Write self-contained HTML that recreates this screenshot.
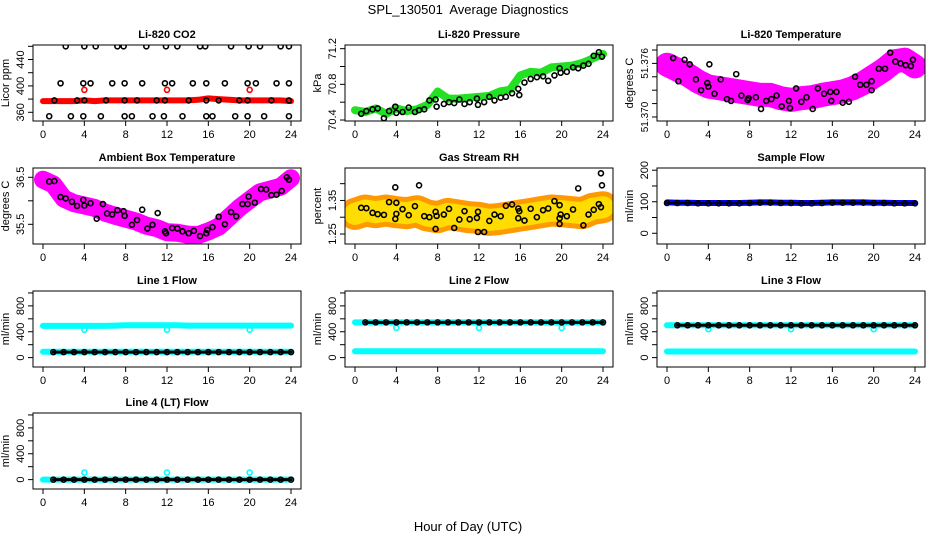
<!DOCTYPE html>
<html><head><meta charset="utf-8"><style>
body{margin:0;background:#fff}
svg{display:block;font-family:"Liberation Sans",Arial,sans-serif}
</style></head><body>
<svg id="c" width="936" height="540" viewBox="0 0 936 540">
<text x="468" y="14" text-anchor="middle" font-size="13" style="white-space:pre">SPL_130501  Average Diagnostics</text>
<text x="468" y="531" text-anchor="middle" font-size="13">Hour of Day (UTC)</text>
</svg>
<script>
// ---- data ----
const hours = [0,1,2,3,4,5,6,7,8,9,10,11,12,13,14,15,16,17,18,19,20,21,22,23,24];
const xTicks = [0,4,8,12,16,20,24];

const co2Red = [377,377,377,377,378,377,378,378,378,378,378,378,378,378,378,379,381,380,379,378,378,378,378,378,377];
const co2RedOut = [[4,394],[12,394],[20,394]];
const co2Black = [[2.2,460],[4,460],[5.1,460],[7.2,460],[7.8,460],[10,460],[11.9,460],[13,460],[15.2,460],[15.7,460],[18.2,460],[19.9,460],[21,460],[23,460],[23.8,460],
 [1.7,404],[3.9,404],[4.6,404],[6.7,404],[7.9,404],[9.6,404],[11.8,404],[12.5,404],[14.5,404],[15.8,404],[17.6,404],[19.8,404],[20.6,404],[22.6,404],[23.8,404],
 [1.1,378],[3.3,378],[4,378],[6.1,378],[7.9,378],[9.1,378],[11,378],[11.8,378],[14.1,378],[15.8,378],[17,378],[19,378],[19.8,378],[22.1,378],[23.8,378],
 [0.6,354],[2.7,354],[3.9,354],[5.6,354],[7.9,354],[8.6,354],[10.6,354],[11.7,354],[13.5,354],[15.8,354],[16.4,354],[18.6,354],[19.8,354],[21.4,354],[23.8,354]];

const presGreen = [70.51,70.49,70.53,70.47,70.53,70.50,70.52,70.57,70.72,70.64,70.64,70.65,70.66,70.67,70.72,70.74,70.90,70.94,70.93,70.99,71.00,71.01,71.04,71.09,71.14];
const presBlack = [[0.6,70.47],[1.1,70.50],[1.7,70.52],[2.2,70.53],[2.8,70.42],[3.3,70.50],[3.9,70.55],[4,70.48],[4.6,70.49],[5.2,70.54],[5.8,70.49],[6.2,70.51],[6.7,70.52],[7.2,70.62],[7.8,70.63],[7.9,70.55],[8.6,70.58],[9.1,70.60],[9.6,70.59],[10.1,70.63],[10.6,70.58],[11.1,70.60],[11.8,70.64],[11.9,70.57],[12.5,70.60],[13,70.66],[13.5,70.62],[14.1,70.65],[14.6,70.66],[15.2,70.70],[15.8,70.75],[15.9,70.68],[16.4,70.82],[17,70.86],[17.6,70.88],[18.2,70.89],[18.7,70.84],[19.3,70.90],[19.8,70.98],[19.9,70.93],[20.5,70.94],[21.1,70.99],[21.6,70.98],[22.1,71.01],[22.6,71.03],[23.1,71.12],[23.6,71.16],[23.9,71.11]];

const liTempPink = [51.37585,51.37529,51.37472,51.37397,51.37341,51.37323,51.37304,51.37285,51.37266,51.37247,51.37247,51.37210,51.37191,51.37210,51.37221,51.37247,51.37266,51.37285,51.37323,51.37379,51.37454,51.37529,51.37622,51.37641,51.37566];
const liTempBlack = [[0.6,51.3766],[1.1,51.3740],[1.7,51.3764],[2.2,51.3759],[2.8,51.3742],[3.3,51.3730],[3.9,51.3738],[4,51.3734],[4.1,51.3759],[4.6,51.3726],[5.2,51.3742],[5.8,51.3720],[6.2,51.3718],[6.7,51.3748],[7.2,51.3724],[7.8,51.3719],[7.9,51.3721],[8.6,51.3722],[9.1,51.3709],[9.6,51.3718],[10.1,51.3720],[10.6,51.3724],[11.1,51.3712],[11.8,51.3718],[11.9,51.3710],[12.5,51.3732],[13,51.3717],[13.5,51.3722],[14.1,51.3709],[14.6,51.3732],[15.2,51.3726],[15.8,51.3728],[15.9,51.3718],[16.4,51.3728],[17,51.3716],[17.6,51.3717],[18.2,51.3745],[18.7,51.3736],[19.3,51.3736],[19.8,51.3730],[19.8,51.3740],[20.5,51.3754],[21.1,51.3754],[21.6,51.3772],[22.1,51.3762],[22.6,51.3760],[23.1,51.3758],[23.6,51.3757],[23.8,51.3764]];

const ambPink = [36.45,36.35,36.05,35.95,35.9,35.85,35.75,35.68,35.62,35.56,35.47,35.42,35.33,35.32,35.28,35.27,35.35,35.45,35.65,35.85,36.02,36.18,36.24,36.3,36.48];
const ambBlack = [[0.6,36.41],[1.1,36.42],[1.7,36.08],[2.2,36.05],[2.8,35.98],[3.3,35.89],[3.9,36.02],[4,35.90],[4.6,35.95],[5.2,35.62],[5.8,35.93],[6.2,35.73],[6.7,35.71],[7.2,35.80],[7.8,35.78],[7.9,35.68],[8.6,35.49],[9.1,35.59],[9.6,35.81],[10.1,35.41],[10.6,35.49],[11.1,35.74],[11.8,35.35],[11.9,35.31],[12.5,35.42],[13,35.41],[13.5,35.35],[14.1,35.31],[14.6,35.36],[15.2,35.25],[15.8,35.31],[15.9,35.38],[16.4,35.44],[17,35.66],[17.6,35.50],[18.2,35.76],[18.7,35.67],[19.3,35.93],[19.8,35.93],[19.9,36.09],[20.5,35.96],[21.1,36.25],[21.6,36.24],[22.1,36.12],[22.6,36.13],[23.1,36.21],[23.6,36.50],[23.8,36.45]];

const rhOrange = [1.310,1.320,1.315,1.320,1.315,1.312,1.318,1.305,1.300,1.310,1.305,1.300,1.298,1.292,1.295,1.300,1.305,1.310,1.315,1.320,1.318,1.315,1.312,1.325,1.330];
const rhBlack = [[0.6,1.328],[1.1,1.327],[1.7,1.313],[2.2,1.309],[2.8,1.307],[3.3,1.345],[3.9,1.389],[4,1.343],[3.9,1.295],[4,1.310],[4.6,1.324],[5.2,1.306],[5.8,1.333],[6.2,1.395],[6.7,1.303],[7.2,1.300],[7.8,1.316],[7.9,1.304],[7.8,1.265],[8.6,1.308],[9.1,1.325],[9.6,1.268],[10.1,1.293],[10.6,1.318],[11.1,1.294],[11.8,1.298],[11.9,1.316],[11.9,1.256],[12.5,1.256],[13,1.289],[13.5,1.308],[14.1,1.303],[14.6,1.334],[15.2,1.338],[15.8,1.326],[15.9,1.318],[15.8,1.297],[16.4,1.290],[17,1.325],[17.6,1.300],[18.2,1.321],[18.7,1.326],[19.3,1.348],[19.8,1.336],[19.9,1.308],[19.8,1.297],[19.8,1.280],[20.5,1.303],[21.1,1.323],[21.6,1.386],[22.1,1.276],[22.6,1.308],[23.1,1.322],[23.6,1.339],[23.8,1.330],[23.8,1.431],[23.9,1.395]];

const sampleBlue = [98,97,97,96,96,96,96,96,97,98,98,97,97,96,96,97,98,98,98,98,97,97,96,96,96];
const sampleBlack = [96,96,96,95,95,95,95,95,96,97,97,96,96,95,95,96,97,97,97,97,96,96,95,95,95];

const l1CyanTop = [490,490,490,490,490,490,490,495,500,500,500,500,500,500,495,495,495,495,495,495,495,495,495,495,495];
const l1CyanBot = [90,90,90,90,90,90,90,90,90,90,90,90,90,90,90,90,90,90,90,90,90,90,90,90,90];
const l1Black = [85,85,85,85,85,85,85,85,85,85,85,85,85,85,85,85,85,85,85,85,85,85,85,85,85];
const l1Dips = [[4,430],[12,430],[20,430]];

const l2CyanTop = [545,545,545,545,545,545,545,545,545,545,545,545,545,545,545,545,545,545,545,545,545,545,545,545,545];
const l2CyanBot = [100,100,100,100,100,100,100,100,100,100,100,100,100,100,100,100,100,100,100,100,100,100,100,100,100];
const l2Black = [545,545,545,545,545,545,545,545,545,545,545,545,545,545,545,545,545,545,545,545,545,545,545,545,545];
const l2Dips = [[4,460],[12,460],[20,460]];

const l3CyanTop = [500,500,500,500,500,500,500,500,500,500,500,500,500,500,500,500,500,500,500,500,500,500,500,500,500];
const l3CyanBot = [95,95,95,95,95,95,95,95,95,95,95,95,95,95,95,95,95,95,95,95,95,95,95,95,95];
const l3Black = [500,500,500,500,500,500,500,500,500,500,500,500,500,500,500,500,500,500,500,500,500,500,500,500,500];
const l3Dips = [[4,440],[12,440],[20,440]];

const l4Cyan = [0,0,0,0,0,0,0,0,0,0,0,0,0,0,0,0,0,0,0,0,0,0,0,0,0];
const l4Black = [0,0,0,0,0,0,0,0,0,0,0,0,0,0,0,0,0,0,0,0,0,0,0,0,0];
const l4Spikes = [[4,110],[12,110],[20,110]];

const flowTicks = [0,200,400,600,800,1000];
const flowLabels = ["0","","400","","800",""];

// ---- drawing ----
const NS = "http://www.w3.org/2000/svg";
const svg = document.getElementById('c');
function mk(tag, parent, attrs){ const e=document.createElementNS(NS,tag); for(const k in attrs) e.setAttribute(k,attrs[k]); parent.appendChild(e); return e; }
const colX=[33,345,657], rowY=[45,168,291,413], W=268, H=76;

function panel(name,col,row,title,ylab,ylo,yhi,yt,yl,fs){
  const g=mk('g',svg,{});
  
  
  const L=colX[col], T=rowY[row];
  const sx=v=>L+10+(v)*(W-20)/24;
  const sy=v=>T+H-(v-ylo)/(yhi-ylo)*H;
  const clipId='cl'+name;
  const cp=mk('clipPath',g,{id:clipId}); mk('rect',cp,{x:L,y:T,width:W,height:H});
  const plot=mk('g',g,{'clip-path':'url(#'+clipId+')'});
  const box=mk('rect',g,{x:L,y:T,width:W,height:H,fill:'none',stroke:'#000','stroke-width':1});
  
  
  const t=mk('text',g,{x:L+W/2,y:T-7,'text-anchor':'middle','font-size':11,'font-weight':'bold'}); t.textContent=title;
  
  
  const xa=mk('g',g,{});
  
  
  mk('line',xa,{x1:sx(xTicks[0]),x2:sx(xTicks[xTicks.length-1]),y1:T+H,y2:T+H,stroke:'#000'});
  xTicks.forEach(v=>{ mk('line',xa,{x1:sx(v),x2:sx(v),y1:T+H,y2:T+H+5,stroke:'#000'});
    const tx=mk('text',xa,{x:sx(v),y:T+H+17,'text-anchor':'middle','font-size':11}); tx.textContent=v; });
  const ya=mk('g',g,{});
  
  
  const inr=yt.filter(v=>v>=ylo&&v<=yhi);
  mk('line',ya,{x1:L,x2:L,y1:sy(inr[0]),y2:sy(inr[inr.length-1]),stroke:'#000'});
  yt.forEach((v,i)=>{ if(v<ylo||v>yhi) return; const y=sy(v);
    mk('line',ya,{x1:L-5,x2:L,y1:y,y2:y,stroke:'#000'});
    if(yl[i]){ const tx=mk('text',ya,{x:L-9,y:y,'text-anchor':'middle','font-size':fs||11,transform:`rotate(-90 ${L-9} ${y})`}); tx.textContent=yl[i]; }});
  const yt2=mk('text',g,{x:L-24,y:T+H/2,'text-anchor':'middle','font-size':11,transform:`rotate(-90 ${L-24} ${T+H/2})`}); yt2.textContent=ylab;
  
  
  return {plot,sx,sy};
}
function band(p,vals,color,w,nm,off){
  off=off||0;
  const d=vals.map((v,i)=>(i?'L':'M')+p.sx(hours[i+off]).toFixed(1)+' '+p.sy(v).toFixed(1)).join(' ');
  const e=mk('path',p.plot,{d:d,fill:'none',stroke:color,'stroke-width':w,'stroke-linejoin':'round','stroke-linecap':'round'});
  
  
}
function pts(p,pairs,color,nm,fill){
  const g=mk('g',p.plot,{});
  
  
  pairs.forEach(q=>mk('circle',g,{cx:p.sx(q[0]),cy:p.sy(q[1]),r:2.5,fill:fill||'none',stroke:color,'stroke-width':1.6}));
}
const hp=arr=>arr.map((v,i)=>[hours[i],v]);

// Li-820 CO2
let p=panel('co2',0,0,'Li-820 CO2','Licor ppm',346.8,462,[360,380,400,420,440,460],['360','','400','','440','']);
band(p,co2Red,'#f00',6,'co2-red-series'); pts(p,co2RedOut,'#f00','co2-red-outliers'); pts(p,co2Black,'#000','co2-black-points');
// Pressure
p=panel('pressure',1,0,'Li-820 Pressure','kPa',70.389,71.241,[70.4,70.6,70.8,71.0,71.2],['70.4','','70.8','','71.2']);
band(p,presGreen,'#22e022',8,'pressure-green-series'); pts(p,presBlack,'#000','pressure-black-points');
// Li temp
p=panel('li-temp',2,0,'Li-820 Temperature','degrees C',51.36955,51.37806,[51.370,51.3715,51.373,51.3745,51.376,51.3775],['51.370','','','','51.376',''],10);
band(p,liTempPink,'#ff00ff',24,'li-temp-pink-series'); pts(p,hp(liTempPink),'#ff00ff','li-temp-pink-points'); pts(p,liTempBlack,'#000','li-temp-black-points');
// Ambient
p=panel('ambient',0,1,'Ambient Box Temperature','degrees C',35.081,36.698,[35.5,36.0,36.5],['35.5','','36.5']);
band(p,ambPink,'#ff00ff',18,'ambient-pink-series'); pts(p,ambBlack,'#000','ambient-black-points');
// RH
p=panel('rh',1,1,'Gas Stream RH','percent',1.2202,1.4467,[1.25,1.30,1.35,1.40],['1.25','','1.35','']);
band(p,rhOrange,'#ff9900',32,'rh-orange-series'); band(p,rhOrange,'#ffdd00',22,'rh-yellow-core'); pts(p,rhBlack,'#000','rh-black-points');
// Sample flow
p=panel('sample-flow',2,1,'Sample Flow','ml/min',-34,207,[0,50,100,150,200],['0','','100','','200']);
band(p,sampleBlue,'#0000ff',6,'sample-flow-blue-series'); band(p,sampleBlack,'#000',2,'sample-flow-black-line'); pts(p,hp(sampleBlack),'#000','sample-flow-black-points');
// Line flows
p=panel('line1',0,2,'Line 1 Flow','ml/min',-145,1030,flowTicks,flowLabels);
band(p,l1CyanTop,'#00ffff',6,'line1-cyan-top'); band(p,l1CyanBot,'#00ffff',6,'line1-cyan-bottom'); pts(p,l1Dips,'#00ffff','line1-dips');
band(p,l1Black.slice(1),'#000',3,'line1-black-line',1); pts(p,hp(l1Black).slice(1),'#000','line1-black-points');
p=panel('line2',1,2,'Line 2 Flow','ml/min',-145,1030,flowTicks,flowLabels);
band(p,l2CyanTop,'#00ffff',6,'line2-cyan-top'); band(p,l2CyanBot,'#00ffff',6,'line2-cyan-bottom'); pts(p,l2Dips,'#00ffff','line2-dips');
band(p,l2Black.slice(1),'#000',3,'line2-black-line',1); pts(p,hp(l2Black).slice(1),'#000','line2-black-points');
p=panel('line3',2,2,'Line 3 Flow','ml/min',-145,1030,flowTicks,flowLabels);
band(p,l3CyanTop,'#00ffff',6,'line3-cyan-top'); band(p,l3CyanBot,'#00ffff',6,'line3-cyan-bottom'); pts(p,l3Dips,'#00ffff','line3-dips');
band(p,l3Black.slice(1),'#000',3,'line3-black-line',1); pts(p,hp(l3Black).slice(1),'#000','line3-black-points');
p=panel('line4',0,3,'Line 4 (LT) Flow','ml/min',-145,1030,flowTicks,flowLabels);
band(p,l4Cyan,'#00ffff',6,'line4-cyan'); pts(p,l4Spikes,'#00ffff','line4-spikes');
band(p,l4Black.slice(1),'#000',3,'line4-black-line',1); pts(p,hp(l4Black).slice(1),'#000','line4-black-points');
</script>
</body></html>
